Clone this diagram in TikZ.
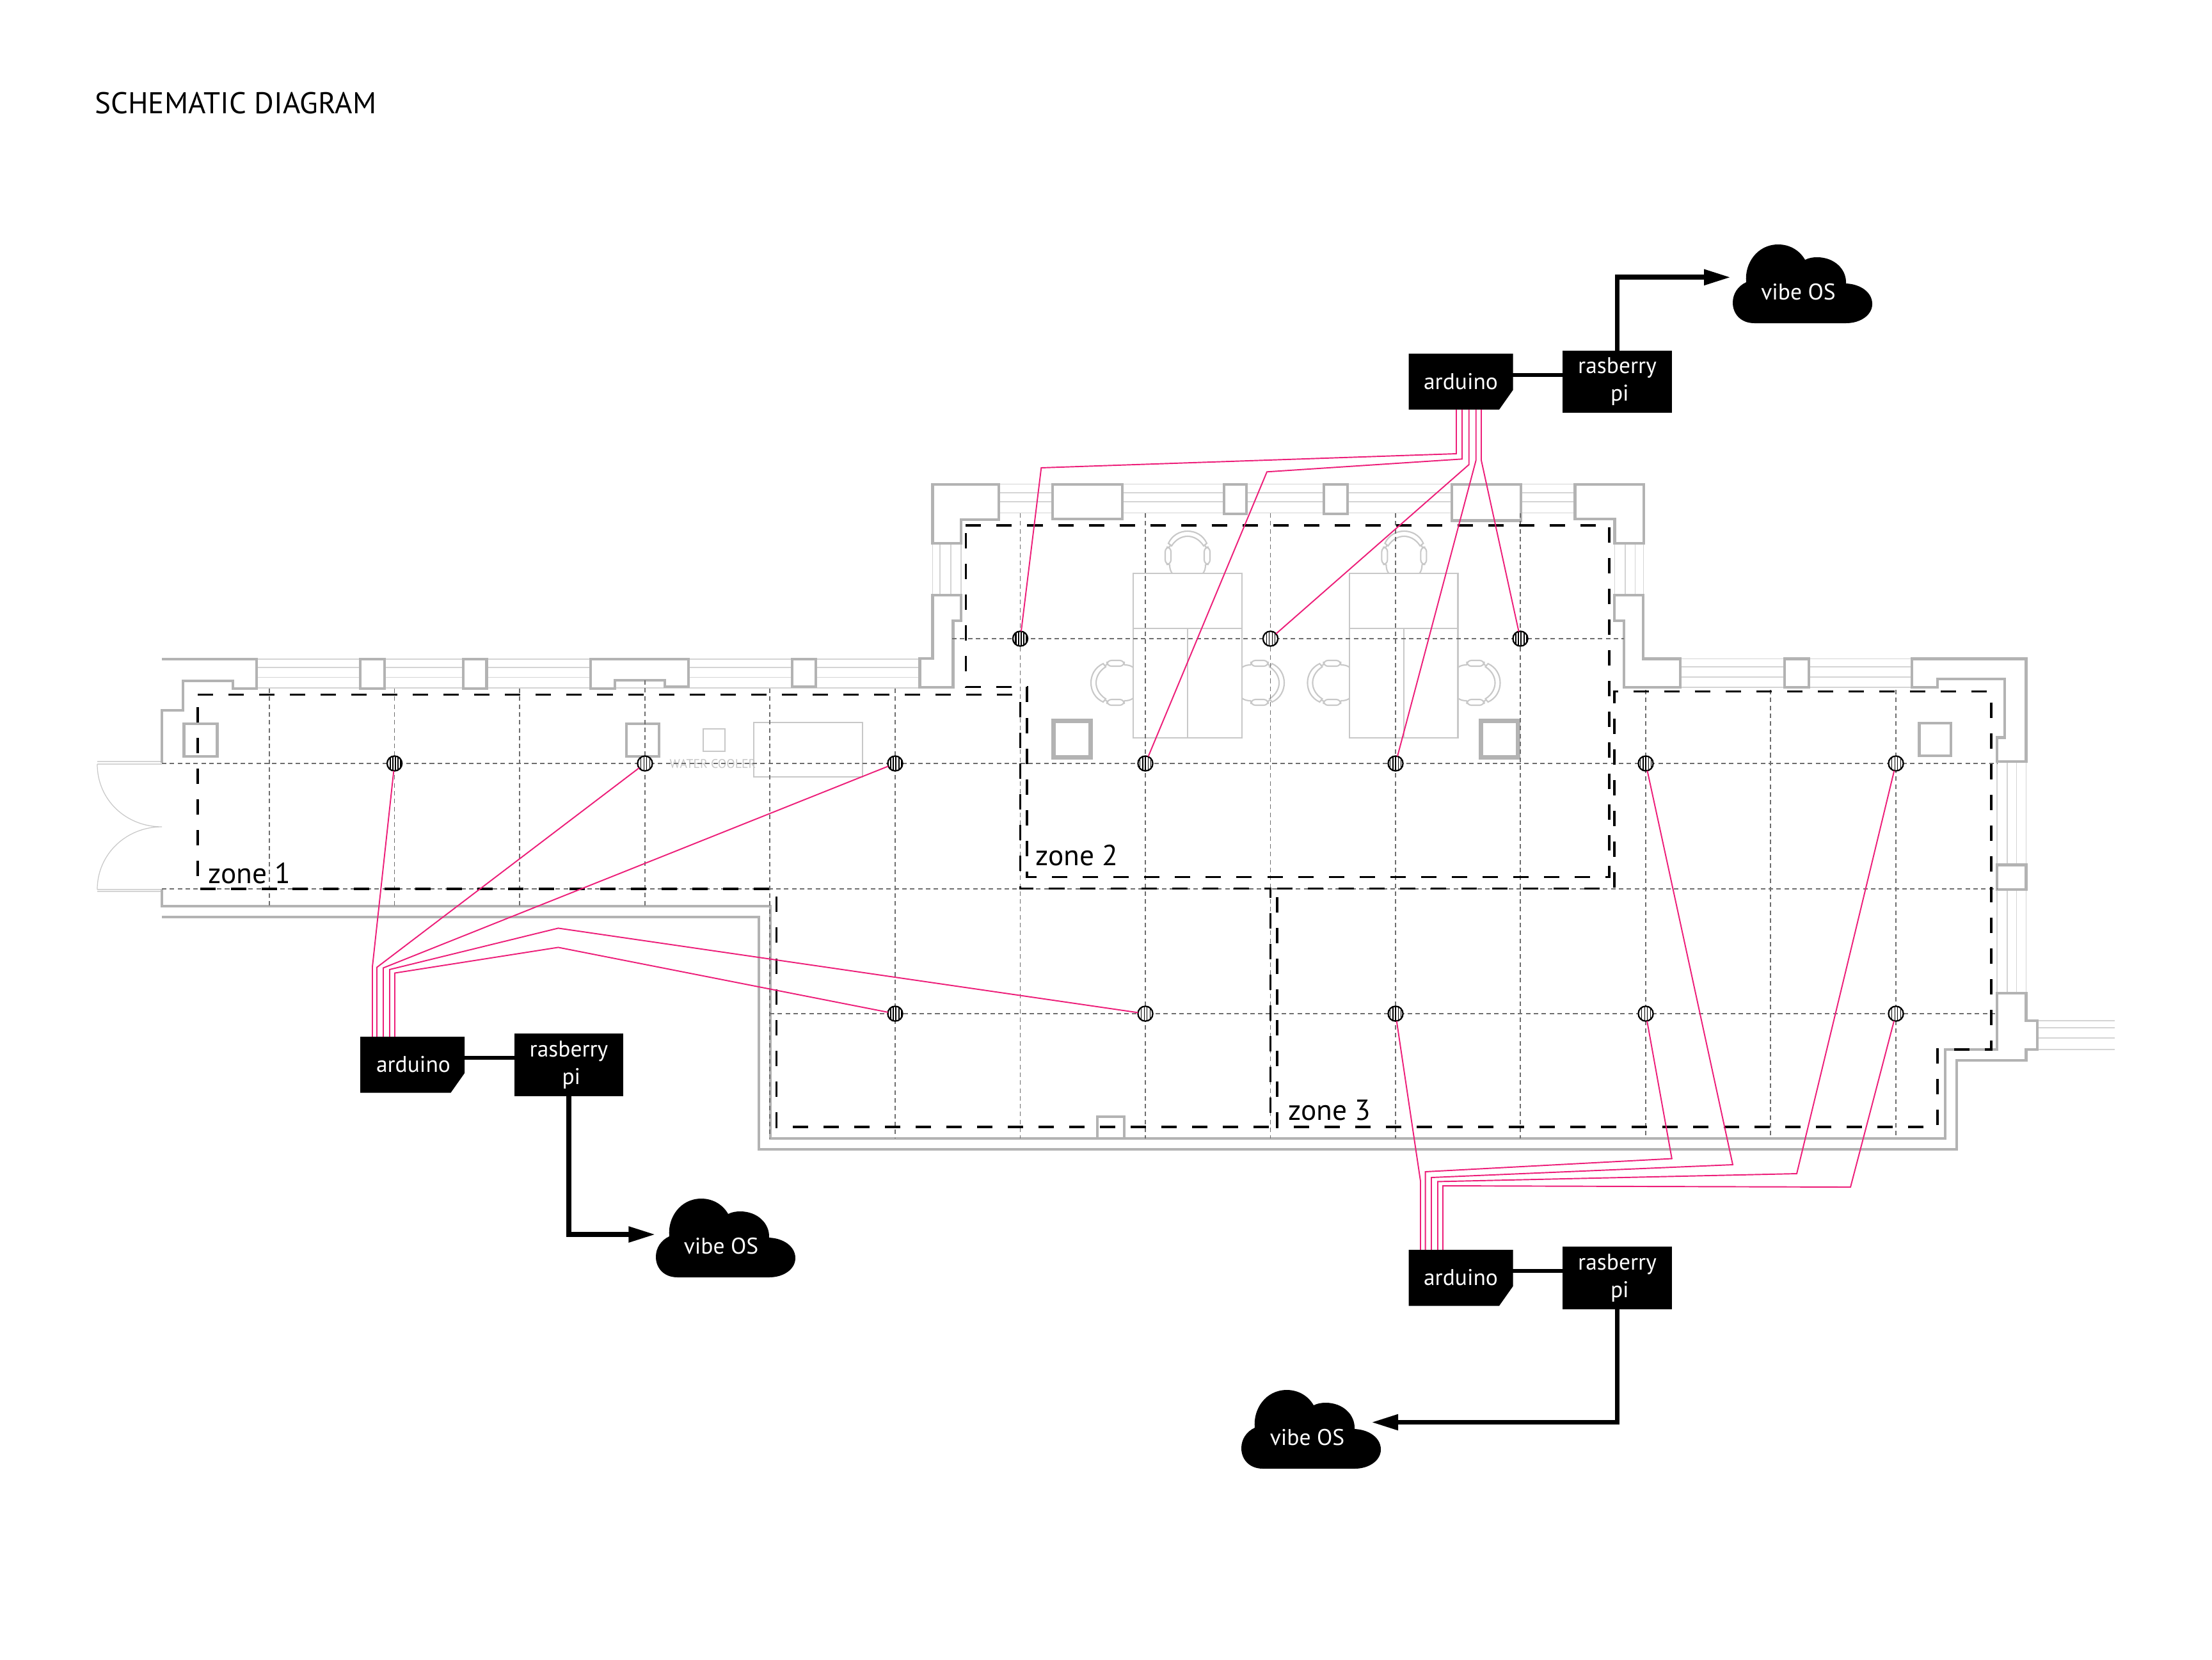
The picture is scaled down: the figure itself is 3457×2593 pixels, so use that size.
\documentclass[tikz,border=0pt]{standalone}
\usepackage{fontspec}
\setmainfont{PT Sans}
\usetikzlibrary{arrows.meta}
\definecolor{wallc}{HTML}{B3B3B3}
\definecolor{lightc}{HTML}{D4D4D4}
\definecolor{furnc}{HTML}{C8C8C8}
\definecolor{gridc}{HTML}{6E6E6E}
\definecolor{wirec}{HTML}{ED1E79}
\tikzset{
  wall/.style={draw=wallc,line width=1.2pt,line join=miter},
  wallbox/.style={wall,fill=white},
  heavybox/.style={draw=wallc,line width=2pt,fill=white},
  winline/.style={draw=lightc,line width=.4pt},
  furn/.style={draw=furnc,line width=.6pt},
  gridline/.style={draw=gridc,line width=.32pt,dash pattern=on 2pt off 1.5pt},
  zoneline/.style={draw=black,line width=1.05pt,dash pattern=on 6.83pt off 6.83pt},
  wire/.style={draw=wirec,line width=.55pt},
  linkline/.style={draw=black,line width=1.75pt},
  uplink/.style={draw=black,line width=2.2pt,-{Triangle[length=11.95pt,width=6.6pt]}},
  sensorbase/.style={circle,draw=black,fill=white,line width=.65pt,minimum size=6.6pt,inner sep=0pt,outer sep=0pt},
  hatchdense/.style={sensorbase,path picture={\foreach \d in {-3.2,-2.0,-.8,.4,1.6,2.8}{\draw[line width=.6pt] ([xshift=\d pt]path picture bounding box.south)--([xshift=\d pt]path picture bounding box.north);}}},
  hatchmed/.style={sensorbase,path picture={\foreach \d in {-2.4,-1.2,0,1.2,2.4}{\draw[line width=.42pt] ([xshift=\d pt]path picture bounding box.south)--([xshift=\d pt]path picture bounding box.north);}}},
  hatchsparse/.style={sensorbase,path picture={\foreach \d in {-1.8,-.5,.8,2}{\draw[line width=.28pt] ([xshift=\d pt]path picture bounding box.south)--([xshift=\d pt]path picture bounding box.north);}}},
  ardbox/.style={rectangle,minimum width=46.4pt,minimum height=25pt,inner sep=0pt,outer sep=0pt,text=white,font=\fontsize{10.1pt}{12pt}\selectfont},
  piebox/.style={rectangle,fill=black,minimum width=48.6pt,minimum height=27.8pt,inner sep=0pt,outer sep=0pt,text=white,align=center,font=\fontsize{10.1pt}{12.2pt}\selectfont},
  cloudtext/.style={inner sep=0pt,text=white,font=\fontsize{10.1pt}{12pt}\selectfont},
  zonetext/.style={anchor=base west,inner sep=0pt,font=\fontsize{12.9pt}{14pt}\selectfont},
}
\newcommand{\chairshape}[3]{%
  \begin{scope}[shift={(#1,#2)},rotate=#3]
    \draw[furn] (-30,-47) .. controls (-24,-60) and (-12,-66) .. (0,-66) .. controls (12,-66) and (24,-60) .. (30,-47) -- (25,-43) .. controls (18,-54) and (8,-58) .. (0,-58) .. controls (-8,-58) and (-18,-54) .. (-25,-43) -- cycle;
    \draw[furn,rounded corners=2pt] (-35,-41) rectangle (-26,-14);
    \draw[furn,rounded corners=2pt] (26,-41) rectangle (35,-14);
    \draw[furn] (-24,0) .. controls (-27,-4) and (-28,-8) .. (-28,-14);
    \draw[furn] (24,0) .. controls (27,-4) and (28,-8) .. (28,-14);
    \draw[furn] (-28,-41) -- (-27,-45);
    \draw[furn] (28,-41) -- (27,-45);
  \end{scope}}
\newcommand{\cloudshape}[2]{%
  \fill[black,shift={(#1,#2)}] (34,123) .. controls (12,123) and (0,108) .. (0,91) .. controls (0,77) and (8,65) .. (21,59) .. controls (18,30) and (38,0) .. (71,0) .. controls (90,0) and (105,10) .. (113,24) .. controls (119,21) and (125,20) .. (132,20) .. controls (158,20) and (178,38) .. (177,61) .. controls (200,62) and (218,75) .. (218,93) .. controls (218,110) and (200,123) .. (177,123) -- cycle;}
\newcommand{\ardshape}[2]{%
  \fill[black,shift={(#1,#2)}] (0,0) -- (163,0) -- (163,57) -- (141.5,87.5) -- (0,87.5) -- cycle;}
\begin{document}
\begin{tikzpicture}[x=.01cm,y=-.01cm]
\fill[white] (0,0) rectangle (3457,2593);
\useasboundingbox (0,0) rectangle (3457,2593);

% window lines
\foreach \y in {1030,1043,1058.6,1075}{\draw[winline] (401,\y) -- (1437.5,\y);}
\foreach \y in {756.7,770,784,801.6}{\draw[winline] (1560,\y) -- (2461.5,\y);}
\foreach \y in {1029.5,1042,1058,1074}{\draw[winline] (2626,\y) -- (2988,\y);}
\foreach \x in {1457.4,1469,1486,1501.8}{\draw[winline] (\x,849) -- (\x,930);}
\foreach \x in {2523.4,2540,2555.6,2568.6}{\draw[winline] (\x,849) -- (\x,930);}
\foreach \x in {3121,3137,3151.5,3166.5}{\draw[winline] (\x,1190) -- (\x,1552);}
\foreach \y in {1595,1606,1622,1640}{\draw[winline] (3184,\y) -- (3305,\y);}

% doors
\draw[winline] (152,1190) -- (253,1190) (152,1194) -- (253,1194) (152,1390) -- (253,1390) (152,1393) -- (253,1393);
\draw[furn,line width=.35pt] (152,1194) .. controls (152,1250) and (197,1292) .. (253,1292) .. controls (197,1292) and (152,1335) .. (152,1390);

% walls
\draw[wall] (253,1030) -- (401,1030) -- (401,1076) -- (364,1076) -- (364,1064) -- (286,1064) -- (286,1110) -- (253,1110) -- (253,1192);
\draw[wallbox] (563,1030) rectangle (601,1076);
\draw[wallbox] (723.7,1030) rectangle (760.5,1076);
\draw[wallbox] (922.7,1030) -- (1075.7,1030) -- (1075.7,1073) -- (1039,1073) -- (1039,1063) -- (961,1063) -- (961,1076) -- (922.7,1076) -- cycle;
\draw[wallbox] (1238,1030) rectangle (1274.7,1073);
\draw[wallbox] (1457.4,756.7) -- (1560.7,756.7) -- (1560.7,811.8) -- (1501.8,811.8) -- (1501.8,849) -- (1457.4,849) -- cycle;
\draw[wallbox] (1645,756.7) rectangle (1753.6,810.8);
\draw[wallbox] (1912.7,756.7) rectangle (1948,802.7);
\draw[wallbox] (2068.9,756.7) rectangle (2105.6,802.7);
\draw[wallbox] (2268.6,756.7) rectangle (2377,813.4);
\draw[wallbox] (2461.5,756.7) -- (2568.6,756.7) -- (2568.6,849) -- (2523.4,849) -- (2523.4,810.8) -- (2461.5,810.8) -- cycle;
\draw[wallbox] (1457.4,930) -- (1501.8,930) -- (1501.8,970) -- (1489.5,970) -- (1489.5,1073.6) -- (1437.5,1073.6) -- (1437.5,1029) -- (1457.4,1029) -- cycle;
\draw[wallbox] (2523,930) -- (2568,930) -- (2568,1029.5) -- (2626,1029.5) -- (2626,1074) -- (2538,1074) -- (2538,970) -- (2523,970) -- cycle;
\draw[wallbox] (2788.7,1029.5) rectangle (2827,1074);
\draw[wallbox] (2988,1029.5) -- (3166.5,1029.5) -- (3166.5,1190) -- (3121,1190) -- (3121,1152.5) -- (3133,1152.5) -- (3133,1061) -- (3028,1061) -- (3028,1074) -- (2988,1074) -- cycle;
\draw[wallbox] (3121,1351.5) rectangle (3166.5,1390);
\draw[wall] (253,1390) -- (253,1416) -- (1204,1416) -- (1204,1779) -- (3040,1779) -- (3040,1640) -- (3121,1640) -- (3121,1552) -- (3166.5,1552) -- (3166.5,1595) -- (3184,1595) -- (3184,1640) -- (3166.5,1640) -- (3166.5,1657) -- (3058,1657) -- (3058,1796) -- (1186,1796) -- (1186,1433) -- (253,1433);
\draw[wall,line width=.9pt] (1715,1779) -- (1715,1745) -- (1757,1745) -- (1757,1779);
\draw[wall] (287.5,1131) rectangle (339.5,1182);
\draw[wall] (978.6,1131) rectangle (1030,1182);
\draw[wall] (2999.4,1129.6) rectangle (3049,1180.6);
\draw[heavybox] (1646.4,1126.6) rectangle (1704.6,1183);
\draw[heavybox] (2314.5,1126.6) rectangle (2372,1183);

% furniture
\draw[furn] (1098.7,1139) rectangle (1133,1174);
\draw[furn] (1177.7,1129) rectangle (1348.3,1213.7);
\node[text=furnc,inner sep=0pt,font=\fontsize{5.6pt}{6pt}\selectfont] (cooler) at (1114,1194) {WATER COOLER};
\draw[furn] (1771,896) rectangle (1941,1152.6);
\draw[furn] (1771,981.7) -- (1941,981.7) (1856,981.7) -- (1856,1152.6);
\draw[furn] (2109.4,896) rectangle (2278.5,1152.6);
\draw[furn] (2109.4,981.7) -- (2278.5,981.7) (2194.4,981.7) -- (2194.4,1152.6);
\chairshape{1856}{896}{0}
\chairshape{2194.4}{896}{0}
\chairshape{1771}{1067}{90}
\chairshape{1941}{1067}{-90}
\chairshape{2109.4}{1067}{90}
\chairshape{2278.5}{1067}{-90}

% grid
\draw[gridline] (1488,998) -- (2538,998);
\draw[gridline] (253,1193) -- (3121,1193);
\draw[gridline] (253,1389) -- (3121,1389);
\draw[gridline] (1203,1584) -- (3121,1584);
\foreach \x in {421,616.6,812}{\draw[gridline] (\x,1076) -- (\x,1416);}
\draw[gridline] (1008,1063) -- (1008,1416);
\foreach \x in {1203,1399}{\draw[gridline] (\x,1076) -- (\x,1779);}
\foreach \x in {1594.5,1790,1985.5,2181,2376}{\draw[gridline] (\x,802) -- (\x,1779);}
\foreach \x in {2572,2767,2963}{\draw[gridline] (\x,1078) -- (\x,1779);}

% zones
\draw[zoneline] (309,1085.6) -- (1594.4,1085.6) -- (1594.4,1388.4) -- (1985.4,1388.4) -- (1985.4,1760.7) -- (1213.5,1760.7) -- (1213.5,1389) -- (309,1389) -- cycle;
\draw[zoneline] (1509.4,821) -- (2515,821) -- (2515,1370.5) -- (1605,1370.5) -- (1605,1073.6) -- (1509.4,1073.6) -- cycle;
\draw[zoneline] (1996,1388.4) -- (2523,1388.4) -- (2523,1080.5) -- (3112,1080.5) -- (3112,1640) -- (3028,1640) -- (3028,1760.7) -- (1996,1760.7) -- cycle;
\node[zonetext] (z1) at (325,1380) {zone 1};
\node[zonetext] (z2) at (1618,1352.7) {zone 2};
\node[zonetext] (z3) at (2013,1750) {zone 3};

% sensors
\node[hatchdense] (a1) at (616.6,1193) {};
\node[hatchsparse] (a2) at (1008,1193) {};
\node[hatchdense] (a3) at (1399,1193) {};
\node[hatchdense] (a4) at (1399,1584) {};
\node[hatchsparse] (a5) at (1790,1584) {};
\node[hatchdense] (b1) at (1594.5,998) {};
\node[hatchmed] (b2) at (1790,1193) {};
\node[hatchsparse] (b3) at (1985.5,998) {};
\node[hatchmed] (b4) at (2181,1193) {};
\node[hatchdense] (b5) at (2376,998) {};
\node[hatchmed] (c1) at (2181,1584) {};
\node[hatchsparse] (c2) at (2572,1584) {};
\node[hatchmed] (c3) at (2572,1193) {};
\node[hatchsparse] (c4) at (2963,1193) {};
\node[hatchsparse] (c5) at (2963,1584) {};

% boxes
\ardshape{563}{1620}
\ardshape{2201.5}{552.5}
\ardshape{2201.5}{1953}
\node[ardbox] (ard1) at (646,1663) {arduino};
\node[ardbox] (ard2) at (2283,596) {arduino};
\node[ardbox] (ard3) at (2283,1996.5) {arduino};
\node[piebox] (rb1) at (889,1663.7) {rasberry\\\hspace*{2.2pt}pi};
\node[piebox] (rb2) at (2527.5,596.5) {rasberry\\\hspace*{2.2pt}pi};
\node[piebox] (rb3) at (2527.5,1996.8) {rasberry\\\hspace*{2.2pt}pi};
\cloudshape{1025}{1873}
\cloudshape{2708}{382}
\cloudshape{1940}{2172}
\node[cloudtext] (cl1) at (1127,1947) {vibe OS};
\node[cloudtext] (cl2) at (2810.5,456.5) {vibe OS};
\node[cloudtext] (cl3) at (2043,2246) {vibe OS};
\coordinate (t1) at (1024.5,1929);
\coordinate (t2) at (2705,433.3);
\coordinate (t3) at (2143,2222.5);
\draw[linkline] (726,1653) -- (rb1.west |- 726,1653);
\draw[linkline] (2364,585.7) -- (rb2.west |- 2364,585.7);
\draw[linkline] (2364,1986) -- (rb3.west |- 2364,1986);
\draw[uplink] (rb1.south) |- (t1);
\draw[uplink] (rb2.north) |- (t2);
\draw[uplink] (rb3.south) |- (t3);

% wires
\coordinate (p11) at (582,1620);\coordinate (p12) at (589,1620);\coordinate (p13) at (599,1620);\coordinate (p14) at (609,1620);\coordinate (p15) at (617,1620);
\coordinate (p21) at (2276,640);\coordinate (p22) at (2285,640);\coordinate (p23) at (2295.7,640);\coordinate (p24) at (2306.7,640);\coordinate (p25) at (2315,640);
\coordinate (p31) at (2220,1953);\coordinate (p32) at (2227.6,1953);\coordinate (p33) at (2237,1953);\coordinate (p34) at (2247,1953);\coordinate (p35) at (2255,1953);
\draw[wire] (p11) -- (582,1510.7) -- (a1);
\draw[wire] (p12) -- (589,1511.6) -- (a2);
\draw[wire] (p13) -- (599,1512.5) -- (a3);
\draw[wire] (p14) -- (609,1515) -- (872.4,1450.4) -- (a5);
\draw[wire] (p15) -- (617,1520.5) -- (872.4,1480.4) -- (a4);
\draw[wire] (p21) -- (2276,709) -- (1627.3,731) -- (b1);
\draw[wire] (p22) -- (2285,717.3) -- (1980,737.3) -- (b2);
\draw[wire] (p23) -- (2295.7,726) -- (b3);
\draw[wire] (p24) -- (2306.7,719.3) -- (b4);
\draw[wire] (p25) -- (2315,719.3) -- (b5);
\draw[wire] (p31) -- (2220,1845.7) -- (c1);
\draw[wire] (p32) -- (2227.6,1831) -- (2612.8,1810.5) -- (c2);
\draw[wire] (p33) -- (2237,1840) -- (2708,1820) -- (c3);
\draw[wire] (p34) -- (2247,1846.4) -- (2808,1834) -- (c4);
\draw[wire] (p35) -- (2255,1853) -- (2892,1855) -- (c5);

% title
\node[anchor=base west,inner sep=0pt,font=\fontsize{13.35pt}{15pt}\selectfont] (title) at (148,177.3) {SCHEMATIC DIAGRAM};
\end{tikzpicture}
\end{document}
